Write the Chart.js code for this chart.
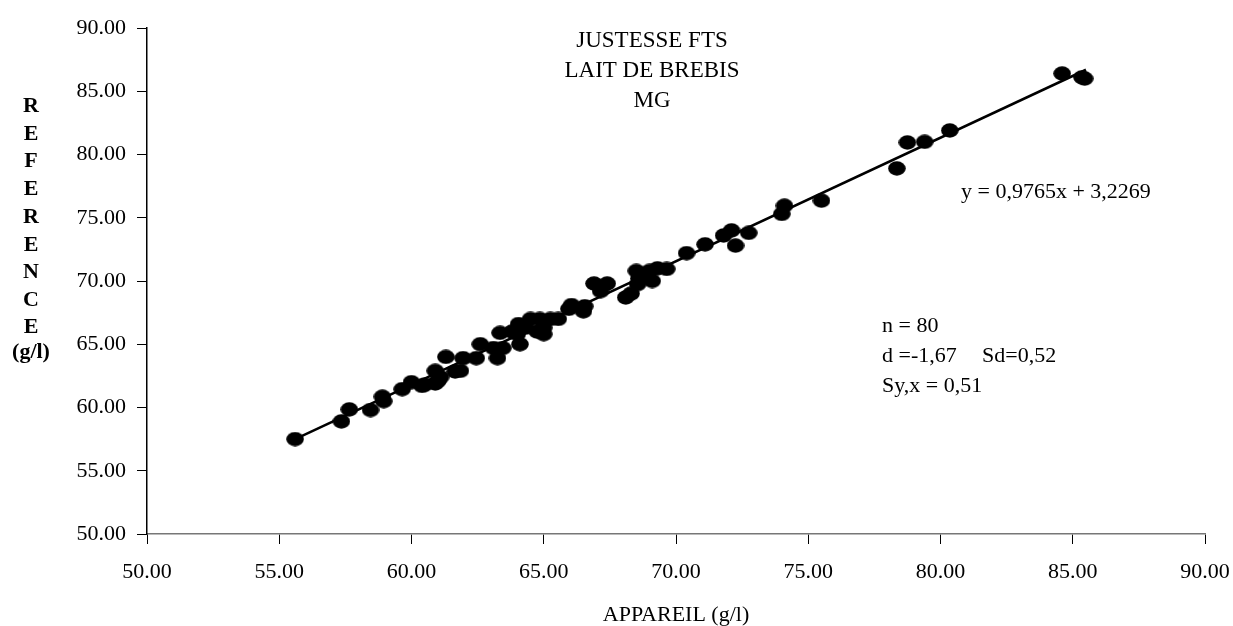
<!DOCTYPE html>
<html>
<head>
<meta charset="utf-8">
<script src="https://cdn.jsdelivr.net/npm/chart.js@4.4.1/dist/chart.umd.min.js"></script>
<style>
  html, body { margin: 0; padding: 0; background: #fff; }
  #wrap { width: 1233px; height: 626px; position: relative; }
</style>
</head>
<body>
<div id="wrap"><canvas id="scatterChart"></canvas></div>
<script>
// measured points (APPAREIL vs REFERENCE, g/l)
const appareil = [
  55.6, 57.35, 57.65, 58.45, 58.9, 58.95, 59.65, 60.0, 60.4, 60.5,
  60.9, 60.9, 61.0, 61.1, 61.3, 61.65, 61.85, 61.95, 62.45, 62.6,
  63.1, 63.25, 63.35, 63.45, 63.8, 64.0, 64.05, 64.1, 64.3, 64.5,
  64.75, 64.85, 65.0, 65.0, 65.25, 65.55, 65.95, 66.05, 66.5, 66.55,
  66.9, 67.15, 67.4, 68.1, 68.3, 68.5, 68.55, 68.6, 68.9, 69.0,
  69.1, 69.3, 69.65, 70.4, 71.1, 71.8, 72.1, 72.25, 72.75, 74.0,
  74.1, 75.5, 78.35, 78.75, 79.4, 80.35, 84.6, 85.35, 85.45
];
const reference = [
  57.5, 58.9, 59.85, 59.8, 60.85, 60.5, 61.45, 62.0, 61.7, 61.8,
  61.9, 62.9, 62.1, 62.4, 64.0, 62.85, 62.9, 63.9, 63.9, 65.0,
  64.7, 63.9, 65.9, 64.7, 66.0, 65.8, 66.6, 65.0, 66.3, 67.0,
  66.0, 67.0, 65.8, 66.3, 67.0, 67.0, 67.8, 68.1, 67.6, 68.0,
  69.8, 69.2, 69.8, 68.7, 69.0, 70.8, 69.75, 70.2, 70.5, 70.8,
  70.0, 71.0, 70.95, 72.2, 72.9, 73.6, 74.0, 72.8, 73.8, 75.3,
  75.95, 76.35, 78.9, 80.95, 81.0, 81.9, 86.4, 86.1, 86.0
];
// regression line end points as drawn
const trendX = [55.6, 85.5];
const trendY = [57.5, 86.7];

const xTicks = [50, 55, 60, 65, 70, 75, 80, 85, 90];
const yTicks = [50, 55, 60, 65, 70, 75, 80, 85, 90];

const titleLines = ['JUSTESSE FTS', 'LAIT DE BREBIS', 'MG'];
const yTitleLetters = ['R', 'E', 'F', 'E', 'R', 'E', 'N', 'C', 'E', '(g/l)'];
const statLines = ['n = 80', 'd =-1,67', 'Sy,x = 0,51'];

const serif = '"Liberation Serif", "Times New Roman", serif';

// slightly wide dots like the original
const dot = document.createElement('canvas');
dot.width = 18; dot.height = 15;
const dctx = dot.getContext('2d');
dctx.fillStyle = '#000';
dctx.beginPath();
dctx.ellipse(9, 7.5, 8.8, 7.2, 0, 0, Math.PI * 2);
dctx.fill();

const textPlugin = {
  id: 'texts',
  afterDraw(chart) {
    const c = chart.ctx;
    c.save();
    c.fillStyle = '#000';
    c.textBaseline = 'alphabetic';

    c.font = '23px ' + serif;
    c.textAlign = 'center';
    titleLines.forEach((t, i) => c.fillText(t, 652, 47 + i * 30));

    c.font = '22px ' + serif;
    c.textAlign = 'left';
    c.fillText('y = 0,9765x + 3,2269', 961, 198);
    statLines.forEach((t, i) => c.fillText(t, 882, 332 + i * 30));
    c.fillText('Sd=0,52', 982, 362);

    c.textAlign = 'center';
    c.fillText('APPAREIL (g/l)', 676, 621);

    c.font = 'bold 22px ' + serif;
    const ys = [112, 140, 167, 195, 223, 251, 278, 306, 333, 358];
    yTitleLetters.forEach((t, i) => c.fillText(t, 31, ys[i]));
    c.restore();
  }
};

const ctx = document.getElementById('scatterChart').getContext('2d');
const chart = new Chart(ctx, {
  type: 'scatter',
  data: {
    datasets: [
      {
        label: 'points',
        data: appareil.map((x, i) => ({ x: x, y: reference[i] })),
        pointStyle: dot,
        backgroundColor: '#000',
        borderColor: '#000'
      },
      {
        label: 'trend',
        type: 'line',
        data: trendX.map((x, i) => ({ x: x, y: trendY[i] })),
        borderColor: '#000',
        borderWidth: 2.5,
        pointRadius: 0,
        fill: false
      }
    ]
  },
  options: {
    responsive: true,
    maintainAspectRatio: false,
    animation: false,
    layout: { padding: { left: 0, top: 28, right: 28, bottom: 0 } },
    plugins: {
      legend: { display: false },
      tooltip: { enabled: false }
    },
    scales: {
      x: {
        type: 'linear',
        min: 50, max: 90,
        afterBuildTicks: (s) => { s.ticks = xTicks.map(v => ({ value: v })); },
        afterFit: (s) => { s.height = 92; s.paddingRight = 0; s.paddingLeft = 0; },
        border: { color: '#777', width: 1.5 },
        grid: { drawOnChartArea: false, drawTicks: true, tickLength: 10, color: '#000' },
        ticks: {
          color: '#000',
          padding: 15,
          maxRotation: 0,
          font: { family: serif, size: 22 },
          callback: (v) => Number(v).toFixed(2)
        }
      },
      y: {
        type: 'linear',
        min: 50, max: 90,
        afterBuildTicks: (s) => { s.ticks = yTicks.map(v => ({ value: v })); },
        afterFit: (s) => { s.width = 147; s.paddingTop = 0; s.paddingBottom = 0; },
        border: { color: '#000', width: 1.5 },
        grid: { drawOnChartArea: false, drawTicks: true, tickLength: 10, color: '#000' },
        ticks: {
          color: '#000',
          padding: 11,
          font: { family: serif, size: 22 },
          callback: (v) => Number(v).toFixed(2)
        }
      }
    }
  },
  plugins: [textPlugin]
});
</script>
</body>
</html>
